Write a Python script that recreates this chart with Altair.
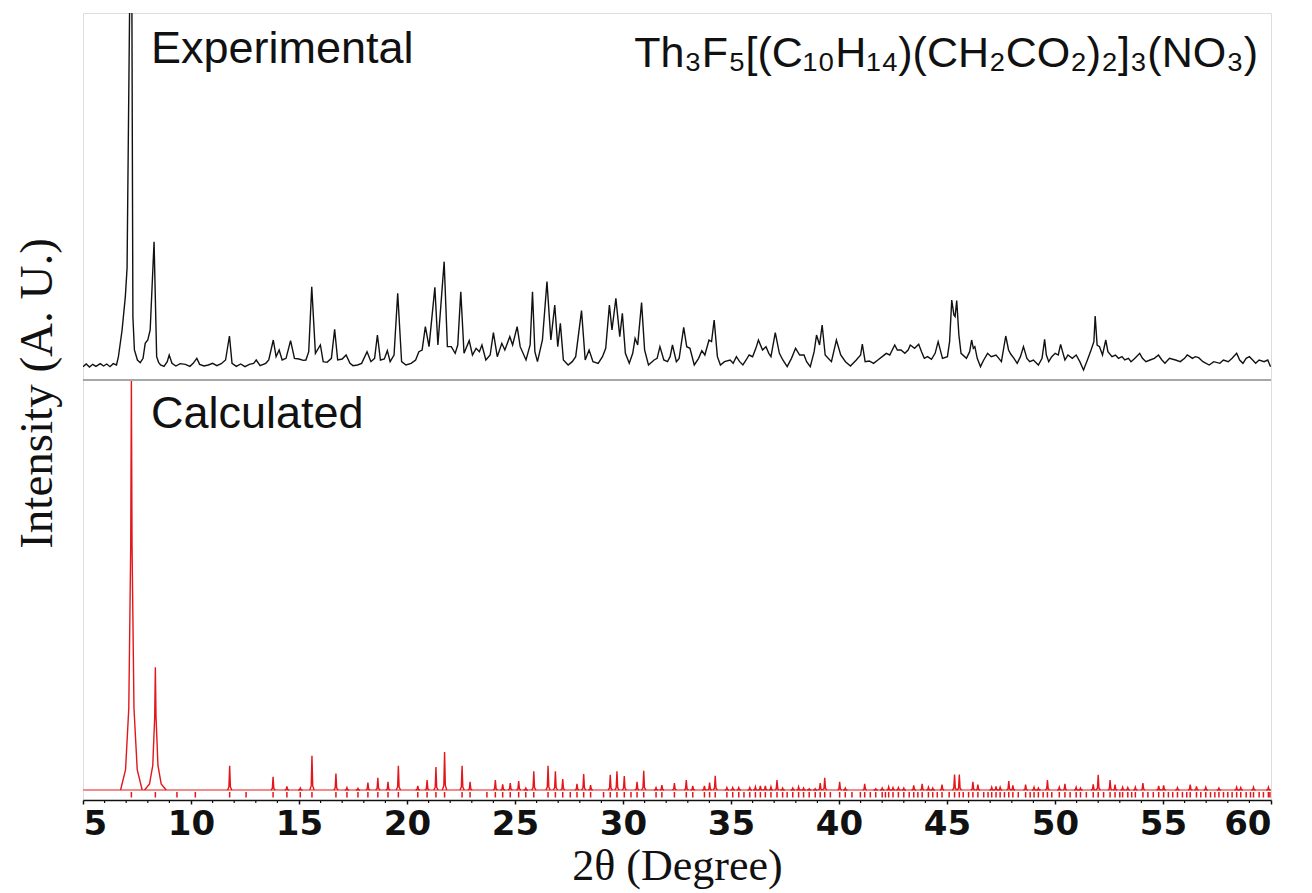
import altair as alt
import pandas as pd

# ---------------- data ----------------
exp_2theta = [5.00, 5.15, 5.30, 5.45, 5.60, 5.80, 5.95, 6.10, 6.25, 6.40, 6.55, 6.64, 6.81, 6.96, 7.04, 7.17, 7.26, 7.31, 7.38, 7.52,
              7.65, 7.78, 7.88, 8.00, 8.11, 8.29, 8.41, 8.50, 8.59, 8.75, 8.90, 8.99, 9.12, 9.30, 9.50, 9.74, 9.95, 10.10, 10.27, 10.40,
              10.60, 10.80, 11.00, 11.20, 11.40, 11.60, 11.78, 11.90, 12.10, 12.30, 12.50, 12.70, 12.90, 13.02, 13.20, 13.46, 13.60, 13.81, 13.94, 14.08,
              14.22, 14.40, 14.61, 14.79, 15.00, 15.20, 15.32, 15.45, 15.59, 15.76, 15.99, 16.12, 16.30, 16.50, 16.65, 16.79, 17.00, 17.18, 17.36, 17.50,
              17.71, 17.90, 18.15, 18.33, 18.50, 18.63, 18.77, 18.95, 19.09, 19.22, 19.40, 19.57, 19.75, 19.95, 20.19, 20.40, 20.55, 20.70, 20.85, 21.02,
              21.29, 21.43, 21.72, 21.87, 22.05, 22.23, 22.35, 22.49, 22.64, 22.88, 23.03, 23.20, 23.35, 23.47, 23.65, 23.85, 24.00, 24.18, 24.39, 24.53,
              24.76, 24.89, 25.10, 25.24, 25.51, 25.70, 25.81, 25.92, 26.04, 26.27, 26.48, 26.66, 26.84, 26.98, 27.10, 27.24, 27.46, 27.65, 27.81, 28.08,
              28.25, 28.43, 28.61, 28.85, 29.05, 29.20, 29.37, 29.49, 29.67, 29.85, 29.97, 30.11, 30.29, 30.45, 30.56, 30.68, 30.86, 31.00, 31.18, 31.44,
              31.58, 31.71, 31.89, 32.06, 32.18, 32.29, 32.47, 32.60, 32.81, 32.95, 33.10, 33.30, 33.50, 33.65, 33.79, 33.98, 34.10, 34.22, 34.37, 34.51,
              34.70, 34.96, 35.10, 35.25, 35.40, 35.55, 35.70, 35.84, 36.00, 36.15, 36.27, 36.46, 36.62, 36.75, 36.85, 37.05, 37.24, 37.40, 37.60, 37.80,
              37.99, 38.18, 38.38, 38.50, 38.67, 38.85, 38.96, 39.10, 39.22, 39.36, 39.50, 39.65, 39.88, 40.08, 40.30, 40.53, 40.80, 41.00, 41.08, 41.21,
              41.40, 41.60, 41.80, 42.00, 42.19, 42.35, 42.58, 42.70, 42.87, 43.05, 43.20, 43.30, 43.50, 43.69, 43.82, 43.95, 44.10, 44.28, 44.45, 44.59,
              44.79, 45.02, 45.12, 45.22, 45.32, 45.375, 45.45, 45.55, 45.65, 45.90, 46.05, 46.14, 46.22, 46.29, 46.40, 46.55, 46.70, 46.88, 47.05, 47.27,
              47.40, 47.52, 47.72, 47.85, 47.95, 48.10, 48.25, 48.40, 48.54, 48.70, 48.83, 49.00, 49.23, 49.40, 49.52, 49.60, 49.71, 49.85, 50.01, 50.15,
              50.26, 50.35, 50.46, 50.60, 50.80, 50.98, 51.15, 51.32, 51.50, 51.67, 51.80, 51.86, 51.95, 52.06, 52.20, 52.35, 52.45, 52.64, 52.80, 52.94,
              53.10, 53.23, 53.40, 53.52, 53.70, 53.92, 54.05, 54.21, 54.40, 54.60, 54.79, 54.95, 55.09, 55.30, 55.58, 55.80, 56.00, 56.12, 56.25, 56.36,
              56.50, 56.65, 56.85, 57.14, 57.35, 57.63, 57.80, 58.02, 58.20, 58.41, 58.55, 58.70, 58.85, 59.00, 59.15, 59.29, 59.45, 59.68, 59.85, 59.98]
exp_counts = [-5, 3, -6, 2, -4, 4, -3, 3, -5, 4, 0, 25, 105, 205, 290, 1150, 1150, 145, 45, 15,
              7, 20, 65, 75, 105, 370, 25, 8, 0, -4, 10, 30, 5, -3, 4, 2, -4, 5, 20, 2,
              -3, 0, 5, -2, 4, 15, 87, 5, -4, 3, -5, 2, 5, 15, -2, 5, 15, 75, 25, 45,
              15, 20, 73, 20, 18, 14, 15, 40, 235, 35, 60, 10, 8, 20, 107, 15, 18, 30, 5, -2,
              0, 5, 40, 10, 20, 90, 15, 18, 43, 10, 30, 215, 10, 0, 5, 15, 40, 45, 115, 55,
              233, 60, 310, 55, 55, 35, 60, 220, 35, 73, 30, 50, 40, 60, 15, 30, 97, 25, 65, 45,
              85, 60, 115, 55, 15, 60, 220, 40, 10, 75, 250, 75, 180, 55, 125, 15, 0, 10, 25, 163,
              15, 45, 10, 5, 25, 50, 180, 105, 200, 85, 155, 35, 5, 35, 80, 60, 187, 45, 0, 15,
              20, 55, 15, 10, 25, 60, 10, 20, 113, 55, 50, 0, 20, 43, 30, 75, 70, 135, 25, 0,
              10, 15, 5, 25, 10, 0, 15, 30, 25, 50, 75, 45, 55, 35, 25, 97, 35, 15, -5, 20,
              50, 30, 30, 10, -5, 40, 90, 60, 120, 30, 20, 10, 75, 30, 10, -3, 15, 30, 63, 10,
              12, 5, 15, 25, 35, 30, 60, 45, 45, 35, 45, 60, 50, 62, 40, 20, 25, 17, 35, 70,
              20, 25, 70, 195, 150, 145, 193, 90, 35, 20, 40, 75, 50, 55, 20, -5, 15, 35, 25, 30,
              20, 10, 87, 45, 33, 20, 5, 25, 55, 20, 10, 15, 0, 20, 77, 30, 10, 25, 35, 30,
              62, 40, 15, 30, 20, 30, 10, -15, 15, 45, 70, 147, 60, 55, 30, 75, 40, 25, 30, 20,
              25, 15, 20, 10, 20, 35, 20, 10, 15, 20, 30, 15, 5, 20, 15, 10, 20, 30, 25, 20,
              25, 22, 10, 0, 10, 5, 15, 10, 20, 35, 15, 5, 20, 25, 15, 5, 15, 10, 15, -5]

calc_2theta = [7.24, 8.35, 11.79, 13.8, 14.44, 15.06, 15.6, 16.71, 17.22, 17.73, 18.19, 18.65, 19.12, 19.6, 20.5, 20.93, 21.34, 21.74,
               22.55, 22.92, 24.09, 24.43, 24.78, 25.17, 25.5, 25.87, 26.53, 26.87, 27.21, 27.87, 28.18, 28.5, 29.41, 29.72, 30.06,
               30.65, 30.96, 31.53, 31.8, 32.38, 32.93, 33.23, 33.77, 34.01, 34.27, 34.81, 35.08, 35.36, 35.87, 36.13, 36.36, 36.59,
               36.85, 37.13, 37.39, 37.86, 38.13, 38.36, 38.62, 38.9, 39.13, 39.34, 40.03, 40.29, 41.19, 41.7, 42.0, 42.3, 42.5,
               42.75, 43.0, 43.46, 43.85, 44.14, 44.34, 44.77, 45.35, 45.57, 46.2, 46.43, 47.07, 47.27, 47.46, 47.86, 48.05, 48.64,
               49.03, 49.23, 49.65, 50.2, 50.46, 50.98, 51.18, 51.77, 52.0, 52.55, 52.78, 53.13, 53.37, 53.72, 54.07, 54.8, 55.03,
               55.67, 56.26, 56.55, 56.98, 57.59, 58.41, 58.6, 59.19, 59.88]
calc_intensity = [100, 30, 5.9, 3.2, 0.9, 0.5, 8.4, 4.0, 0.6, 0.4, 1.8, 3.0, 2.0, 5.9, 1.0, 2.4, 5.6, 9.3,
                  5.9, 2.0, 2.4, 1.4, 1.7, 2.2, 0.5, 4.6, 5.9, 4.6, 2.7, 1.5, 3.9, 1.2, 3.7, 4.6, 3.4,
                  2.0, 4.7, 0.6, 1.2, 1.7, 2.4, 1.0, 1.0, 1.8, 3.5, 0.6, 0.6, 0.6, 0.6, 0.8, 1.0, 1.0,
                  0.8, 2.4, 0.5, 0.5, 0.8, 0.5, 0.3, 0.3, 1.7, 3.0, 2.0, 0.5, 1.5, 0.3, 0.5, 0.8, 0.6,
                  0.6, 0.5, 1.1, 1.5, 0.7, 0.5, 1.3, 3.8, 3.8, 2.0, 1.3, 0.7, 0.9, 0.7, 2.2, 1.1, 1.3,
                  0.7, 0.5, 2.4, 0.7, 1.5, 0.7, 0.5, 1.4, 3.7, 2.4, 1.3, 0.7, 0.6, 0.7, 1.7, 1.0, 1.1,
                  0.6, 1.3, 0.9, 0.7, 0.5, 0.7, 0.6, 0.7, 0.7]

# reflection markers (Bragg positions)
bragg_extra = [9.35, 10.2, 12.55, 23.7, 27.56, 29.1, 30.37, 40.6, 40.99, 35.6, 37.6, 39.6, 41.45, 42.15, 43.25, 43.65,
               44.55, 45.1, 45.75, 46.0, 46.7, 46.9, 47.66, 48.3, 48.85, 49.45, 49.85, 50.7, 51.45, 52.25, 53.0, 53.55,
               54.3, 54.55, 55.25, 55.45, 55.9, 56.1, 56.75, 57.2, 57.4, 57.8, 58.0, 58.2, 58.85, 59.05, 59.45, 59.65, 59.95]
bragg_2theta = sorted(calc_2theta + bragg_extra)

major_ticks = [5, 10, 15, 20, 25, 30, 35, 40, 45, 50, 55, 60]
minor_ticks = [v for v in range(5, 61) if v % 5 != 0]

# ---------------- tables ----------------
exp_df = pd.DataFrame({"x": exp_2theta, "counts": exp_counts})

# peak profile template (offset in degrees, fraction of peak height)
narrow_off = [-0.10, -0.035, 0.0, 0.035, 0.10]
narrow_frac = [0.0, 0.12, 1.0, 0.12, 0.0]
wide_off = [-0.50, -0.27, -0.12, -0.03, 0.0, 0.03, 0.12, 0.27, 0.50]
wide_frac = [0.0, 0.05, 0.2, 0.6, 1.0, 0.6, 0.2, 0.05, 0.0]
rows = []
for i, (p, h) in enumerate(zip(calc_2theta, calc_intensity)):
    off, frac = (wide_off, wide_frac) if h > 20 else (narrow_off, narrow_frac)
    for k, (o, f) in enumerate(zip(off, frac)):
        rows.append({"x": p + o, "inten": h * f, "peak": i, "k": k})
calc_df = pd.DataFrame(rows)
bragg_df = pd.DataFrame({"x": bragg_2theta})
minor_df = pd.DataFrame({"x": minor_ticks})
one_df = pd.DataFrame({"n": [0]})

W, H = 1188, 787
xenc = alt.X("x:Q", scale=alt.Scale(domain=[5, 60], nice=False, zero=False),
             axis=alt.Axis(values=major_ticks, title="2θ (Degree)", format="d",
                           labelFont="DejaVu Sans", labelFontWeight="bold", labelFontSize=34,
                           labelColor="#111", labelPadding=3, tickSize=4, tickWidth=1.5,
                           tickColor="#111", domainColor="#111", domainWidth=1.5, grid=False,
                           titleFont="Liberation Serif", titleFontSize=44, titleFontWeight="normal",
                           titleColor="#111", titlePadding=3))
ytitle_axis = alt.Axis(title="Intensity (A. U.)", labels=False, ticks=False, domain=False, grid=False,
                       titleFont="Liberation Serif", titleFontSize=47, titleFontWeight="normal",
                       titleColor="#111", titlePadding=22, titleY=380)
yscale = alt.Scale(domain=[0, H], nice=False, zero=False)

exp_line = alt.Chart(exp_df).transform_calculate(py="435 + datum.counts / 3").mark_line(
    color="#111", strokeWidth=1.4, clip=True).encode(
    x=xenc, y=alt.Y("py:Q", scale=yscale, axis=ytitle_axis), order="x:Q")

baseline = alt.Chart(one_df).mark_rule(color="#f28c8c", strokeWidth=2).encode(
    y=alt.datum(10, scale=yscale), x=alt.value(0), x2=alt.value(W))

calc_line = alt.Chart(calc_df).transform_calculate(py="10 + datum.inten * 4.09").mark_line(
    color="#e3161b", strokeWidth=1.4, clip=True).encode(
    x=xenc, y=alt.Y("py:Q", scale=yscale, axis=ytitle_axis), detail="peak:N", order="k:Q")

bragg = alt.Chart(bragg_df).mark_rule(color="#e3161b", strokeWidth=1.5).encode(
    x=xenc, y=alt.datum(8, scale=yscale), y2=alt.datum(2.5))

minor = alt.Chart(minor_df).mark_rule(color="#111", strokeWidth=1.2, clip=False).encode(
    x=xenc, y=alt.value(H), y2=alt.value(H + 3))

separator = alt.Chart(one_df).mark_rule(color="#8a8a8a", strokeWidth=1.6).encode(
    y=alt.datum(420, scale=yscale), x=alt.value(0), x2=alt.value(W))

label_exp = alt.Chart(one_df).mark_text(text="Experimental", font="Liberation Sans", fontSize=45,
                                        align="left", baseline="alphabetic", color="#111").encode(
    x=alt.value(68), y=alt.value(50))
label_calc = alt.Chart(one_df).mark_text(text="Calculated", font="Liberation Sans", fontSize=45,
                                         align="left", baseline="alphabetic", color="#111").encode(
    x=alt.value(68), y=alt.value(415))
formula = alt.Chart(one_df).mark_text(text="Th₃F₅[(C₁₀H₁₄)(CH₂CO₂)₂]₃(NO₃)",
                                      font="Liberation Sans", fontSize=43,
                                      align="right", baseline="alphabetic", color="#111").encode(
    x=alt.value(1175), y=alt.value(54))

chart = alt.layer(baseline, calc_line, bragg, exp_line, separator, minor,
                  label_exp, label_calc, formula).properties(
    width=W, height=H
).configure_view(stroke="#111", strokeWidth=1.5).configure(background="white")

chart.save("out.html", embed_options={"renderer": "svg", "actions": False})
